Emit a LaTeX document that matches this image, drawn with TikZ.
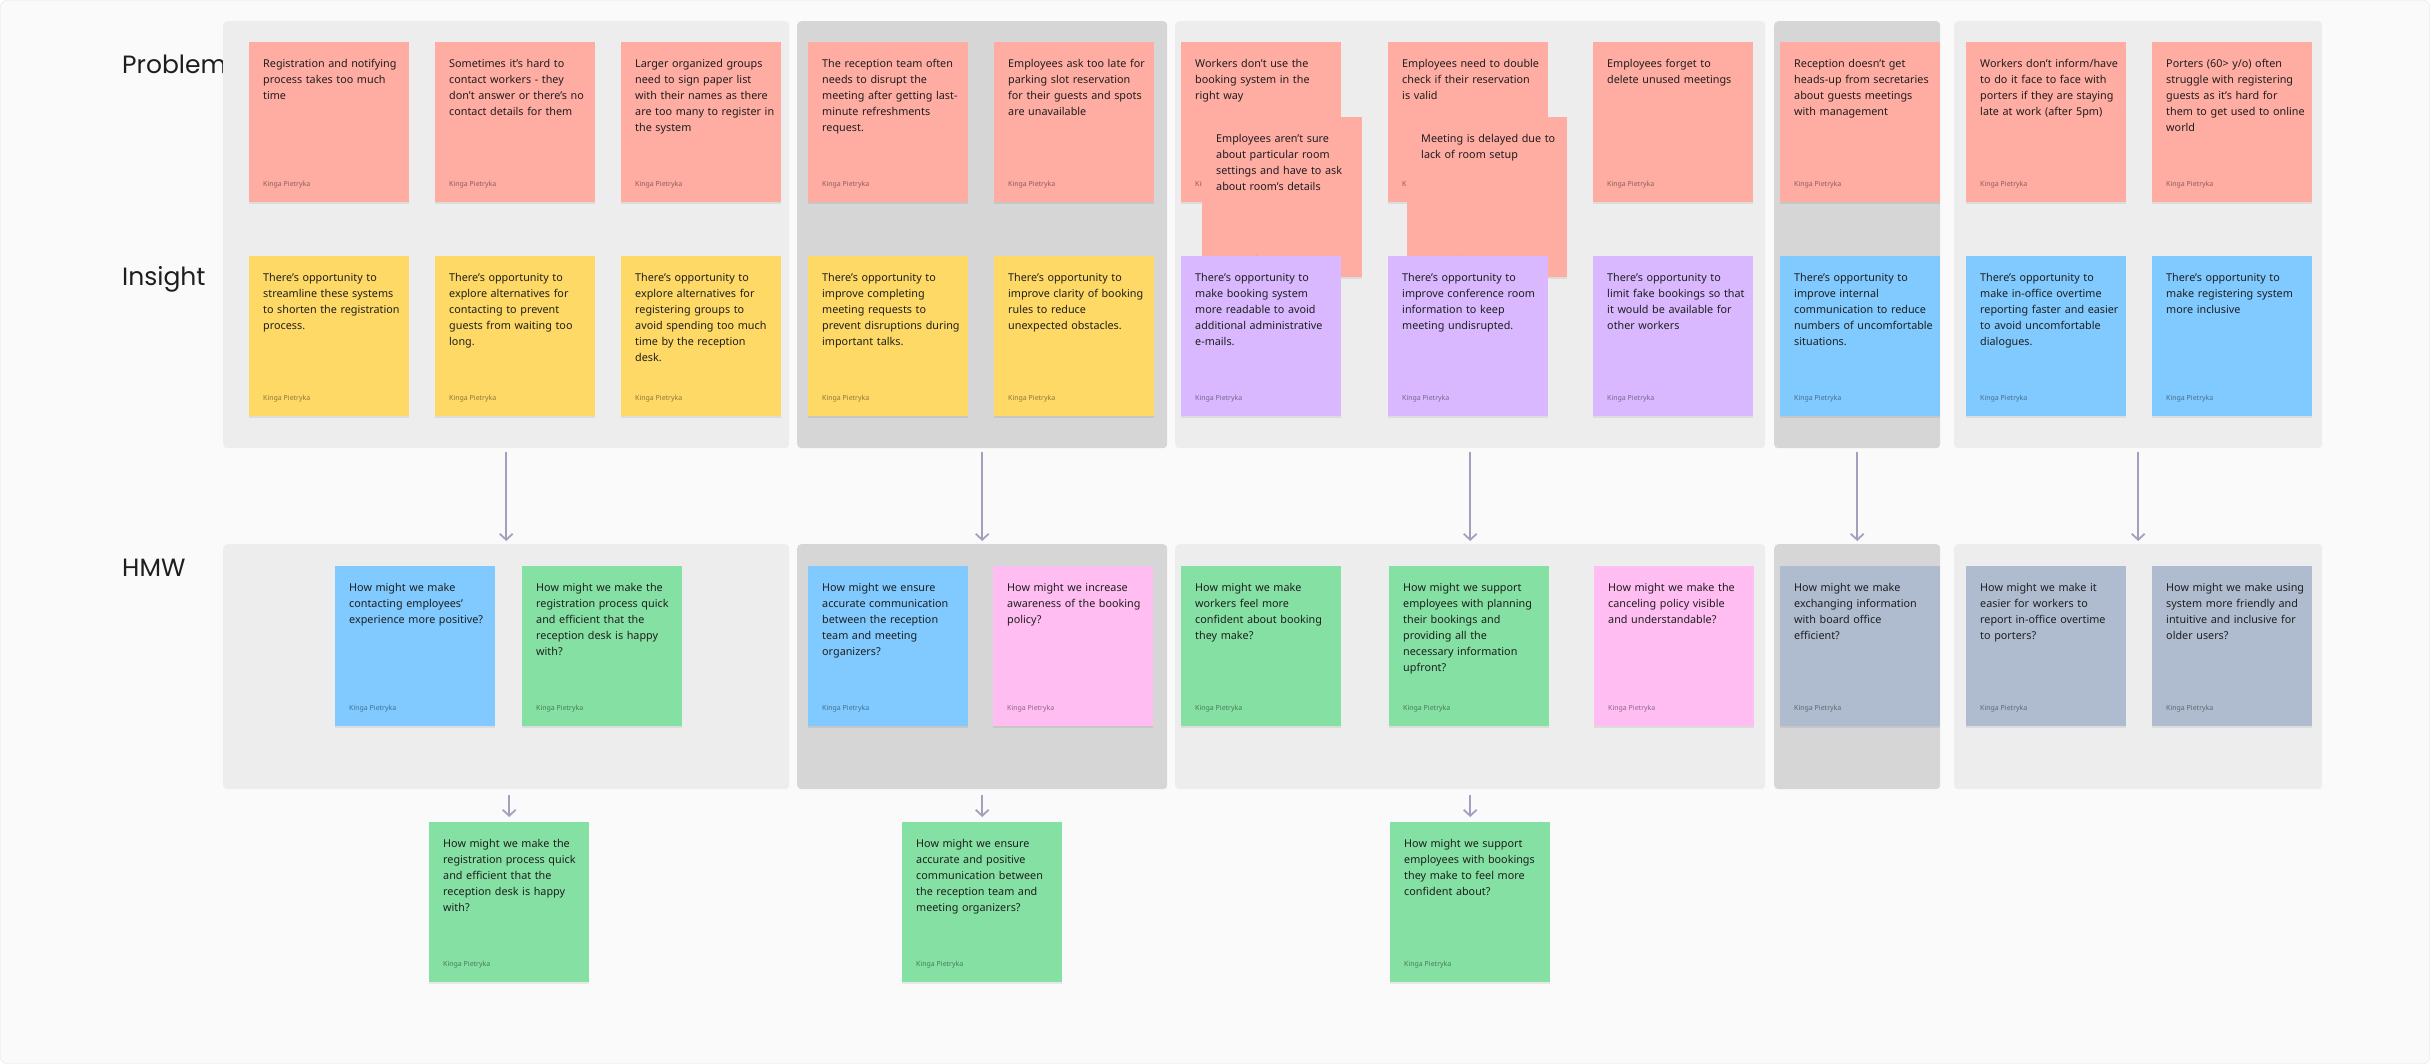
\documentclass[tikz,border=0pt]{standalone}
\usepackage{fontspec}
\setmainfont{Noto Sans}
\newfontfamily\rowfont{Poppins}
\usetikzlibrary{positioning}
\usetikzlibrary{arrows.meta}
\usetikzlibrary{shadows}

\definecolor{pagebg}{HTML}{FAFAFA}
\definecolor{pageline}{HTML}{E4E4E4}
\definecolor{lightp}{HTML}{EDEDED}
\definecolor{darkp}{HTML}{D6D6D6}
\definecolor{redn}{HTML}{FFACA2}
\definecolor{yellown}{HTML}{FFD966}
\definecolor{purplen}{HTML}{D9B8FF}
\definecolor{bluen}{HTML}{80CAFF}
\definecolor{greenn}{HTML}{85E0A3}
\definecolor{pinkn}{HTML}{FFBDF2}
\definecolor{slaten}{HTML}{AFBCCF}
\definecolor{ink}{HTML}{1E1E1E}
\definecolor{arrowc}{HTML}{A3A0BD}

\begin{document}
\begin{tikzpicture}[x=1pt,y=-1pt,
    panel/.style={fill=#1, rounded corners=4pt, anchor=north west, inner sep=0pt},
    note/.style={fill=#1, anchor=north west, minimum width=160pt, minimum height=160pt, inner sep=0pt,
        drop shadow={shadow xshift=0pt, shadow yshift=-2pt, opacity=0.07, fill=black}},
    memo/.style={anchor=north west, xshift=14pt, yshift=-17pt, text width=146pt, align=left,
        inner sep=0pt, text=ink, font=\fontsize{10.8}{16}\selectfont},
    author/.style={anchor=base west, xshift=14pt, yshift=16pt, inner sep=0pt,
        text=black, text opacity=0.45, font=\fontsize{7}{8}\selectfont},
    rowlabel/.style={anchor=base west, inner sep=0pt, text=ink, font=\rowfont\fontsize{25}{30}\selectfont},
    arr/.style={draw=arrowc, line width=1.8pt, -{Straight Barb[length=6pt,width=13pt]}}]
\useasboundingbox (0,0) rectangle (2430,1064);
\draw[fill=pagebg, draw=pageline, rounded corners=6pt] (0.5,0.5) rectangle (2429.5,1063.5);

% row titles
\node[rowlabel] (problem) at (122,74) {Problem};
\node[rowlabel] (insight) at (122,286) {Insight};
\node[rowlabel] (hmw) at (122,576) {HMW};

% group backgrounds
\node[panel=lightp, minimum width=566pt, minimum height=427pt] (tp1) at (223,21) {};
\node[panel=darkp, minimum width=370pt, minimum height=427pt] (tp2) at (797,21) {};
\node[panel=lightp, minimum width=590pt, minimum height=427pt] (tp3) at (1175,21) {};
\node[panel=darkp, minimum width=166pt, minimum height=427pt] (tp4) at (1774,21) {};
\node[panel=lightp, minimum width=368pt, minimum height=427pt] (tp5) at (1954,21) {};
\node[panel=lightp, minimum width=566pt, minimum height=245pt] (hp1) at (223,544) {};
\node[panel=darkp, minimum width=370pt, minimum height=245pt] (hp2) at (797,544) {};
\node[panel=lightp, minimum width=590pt, minimum height=245pt] (hp3) at (1175,544) {};
\node[panel=darkp, minimum width=166pt, minimum height=245pt] (hp4) at (1774,544) {};
\node[panel=lightp, minimum width=368pt, minimum height=245pt] (hp5) at (1954,544) {};

% problems
\node[note=redn, label={[memo]north west:{Registration and notifying\\process takes too much\\time}}, label={[author]south west:Kinga Pietryka}] (n1) at (249,42) {};
\node[note=redn, label={[memo]north west:{Sometimes it’s hard to\\contact workers - they\\don’t answer or there’s no\\contact details for them}}, label={[author]south west:Kinga Pietryka}] (n2) at (435,42) {};
\node[note=redn, label={[memo]north west:{Larger organized groups\\need to sign paper list\\with their names as there\\are too many to register in\\the system}}, label={[author]south west:Kinga Pietryka}] (n3) at (621,42) {};
\node[note=redn, label={[memo]north west:{The reception team often\\needs to disrupt the\\meeting after getting last-\\minute refreshments\\request.}}, label={[author]south west:Kinga Pietryka}] (n4) at (808,42) {};
\node[note=redn, label={[memo]north west:{Employees ask too late for\\parking slot reservation\\for their guests and spots\\are unavailable}}, label={[author]south west:Kinga Pietryka}] (n5) at (994,42) {};
\node[note=redn, label={[memo]north west:{Workers don’t use the\\booking system in the\\right way}}, label={[author]south west:Kinga Pietryka}] (n6) at (1181,42) {};
\node[note=redn, label={[memo]north west:{Employees aren’t sure\\about particular room\\settings and have to ask\\about room’s details}}, label={[author]south west:Kinga Pietryka}] (n6b) at (1202,117) {};
\node[note=redn, label={[memo]north west:{Employees need to double\\check if their reservation\\is valid}}, label={[author]south west:Kinga Pietryka}] (n7) at (1388,42) {};
\node[note=redn, label={[memo]north west:{Meeting is delayed due to\\lack of room setup}}, label={[author]south west:Kinga Pietryka}] (n7b) at (1407,117) {};
\node[note=redn, label={[memo]north west:{Employees forget to\\delete unused meetings}}, label={[author]south west:Kinga Pietryka}] (n8) at (1593,42) {};
\node[note=redn, label={[memo]north west:{Reception doesn’t get\\heads-up from secretaries\\about guests meetings\\with management}}, label={[author]south west:Kinga Pietryka}] (n9) at (1780,42) {};
\node[note=redn, label={[memo]north west:{Workers don’t inform/have\\to do it face to face with\\porters if they are staying\\late at work (after 5pm)}}, label={[author]south west:Kinga Pietryka}] (n10) at (1966,42) {};
\node[note=redn, label={[memo]north west:{Porters (60> y/o) often\\struggle with registering\\guests as it’s hard for\\them to get used to online\\world}}, label={[author]south west:Kinga Pietryka}] (n11) at (2152,42) {};

% insights
\node[note=yellown, label={[memo]north west:{There’s opportunity to\\streamline these systems\\to shorten the registration\\process.}}, label={[author]south west:Kinga Pietryka}] (i1) at (249,256) {};
\node[note=yellown, label={[memo]north west:{There’s opportunity to\\explore alternatives for\\contacting to prevent\\guests from waiting too\\long.}}, label={[author]south west:Kinga Pietryka}] (i2) at (435,256) {};
\node[note=yellown, label={[memo]north west:{There’s opportunity to\\explore alternatives for\\registering groups to\\avoid spending too much\\time by the reception\\desk.}}, label={[author]south west:Kinga Pietryka}] (i3) at (621,256) {};
\node[note=yellown, label={[memo]north west:{There’s opportunity to\\improve completing\\meeting requests to\\prevent disruptions during\\important talks.}}, label={[author]south west:Kinga Pietryka}] (i4) at (808,256) {};
\node[note=yellown, label={[memo]north west:{There’s opportunity to\\improve clarity of booking\\rules to reduce\\unexpected obstacles.}}, label={[author]south west:Kinga Pietryka}] (i5) at (994,256) {};
\node[note=purplen, label={[memo]north west:{There’s opportunity to\\make booking system\\more readable to avoid\\additional administrative\\e-mails.}}, label={[author]south west:Kinga Pietryka}] (i6) at (1181,256) {};
\node[note=purplen, label={[memo]north west:{There’s opportunity to\\improve conference room\\information to keep\\meeting undisrupted.}}, label={[author]south west:Kinga Pietryka}] (i7) at (1388,256) {};
\node[note=purplen, label={[memo]north west:{There’s opportunity to\\limit fake bookings so that\\it would be available for\\other workers}}, label={[author]south west:Kinga Pietryka}] (i8) at (1593,256) {};
\node[note=bluen, label={[memo]north west:{There’s opportunity to\\improve internal\\communication to reduce\\numbers of uncomfortable\\situations.}}, label={[author]south west:Kinga Pietryka}] (i9) at (1780,256) {};
\node[note=bluen, label={[memo]north west:{There’s opportunity to\\make in-office overtime\\reporting faster and easier\\to avoid uncomfortable\\dialogues.}}, label={[author]south west:Kinga Pietryka}] (i10) at (1966,256) {};
\node[note=bluen, label={[memo]north west:{There’s opportunity to\\make registering system\\more inclusive}}, label={[author]south west:Kinga Pietryka}] (i11) at (2152,256) {};

% how might we
\node[note=bluen, label={[memo]north west:{How might we make\\contacting employees’\\experience more positive?}}, label={[author]south west:Kinga Pietryka}] (h1) at (335,566) {};
\node[note=greenn, label={[memo]north west:{How might we make the\\registration process quick\\and efficient that the\\reception desk is happy\\with?}}, label={[author]south west:Kinga Pietryka}] (h2) at (522,566) {};
\node[note=bluen, label={[memo]north west:{How might we ensure\\accurate communication\\between the reception\\team and meeting\\organizers?}}, label={[author]south west:Kinga Pietryka}] (h3) at (808,566) {};
\node[note=pinkn, label={[memo]north west:{How might we increase\\awareness of the booking\\policy?}}, label={[author]south west:Kinga Pietryka}] (h4) at (993,566) {};
\node[note=greenn, label={[memo]north west:{How might we make\\workers feel more\\confident about booking\\they make?}}, label={[author]south west:Kinga Pietryka}] (h5) at (1181,566) {};
\node[note=greenn, label={[memo]north west:{How might we support\\employees with planning\\their bookings and\\providing all the\\necessary information\\upfront?}}, label={[author]south west:Kinga Pietryka}] (h6) at (1389,566) {};
\node[note=pinkn, label={[memo]north west:{How might we make the\\canceling policy visible\\and understandable?}}, label={[author]south west:Kinga Pietryka}] (h7) at (1594,566) {};
\node[note=slaten, label={[memo]north west:{How might we make\\exchanging information\\with board office\\efficient?}}, label={[author]south west:Kinga Pietryka}] (h8) at (1780,566) {};
\node[note=slaten, label={[memo]north west:{How might we make it\\easier for workers to\\report in-office overtime\\to porters?}}, label={[author]south west:Kinga Pietryka}] (h9) at (1966,566) {};
\node[note=slaten, label={[memo]north west:{How might we make using\\system more friendly and\\intuitive and inclusive for\\older users?}}, label={[author]south west:Kinga Pietryka}] (h10) at (2152,566) {};

% chosen ones
\node[note=greenn, label={[memo]north west:{How might we make the\\registration process quick\\and efficient that the\\reception desk is happy\\with?}}, label={[author]south west:Kinga Pietryka}] (b1) at (429,822) {};
\node[note=greenn, label={[memo]north west:{How might we ensure\\accurate and positive\\communication between\\the reception team and\\meeting organizers?}}, label={[author]south west:Kinga Pietryka}] (b2) at (902,822) {};
\node[note=greenn, label={[memo]north west:{How might we support\\employees with bookings\\they make to feel more\\confident about?}}, label={[author]south west:Kinga Pietryka}] (b3) at (1390,822) {};

\foreach \k in {1,...,5}
    \draw[arr, shorten <=4pt, shorten >=3pt] (tp\k.south) -- (hp\k.north);
\foreach \k in {1,2,3}
    \draw[arr, shorten <=6pt, shorten >=5pt] (hp\k.south -| b\k.north) -- (b\k.north);
\end{tikzpicture}
\end{document}
